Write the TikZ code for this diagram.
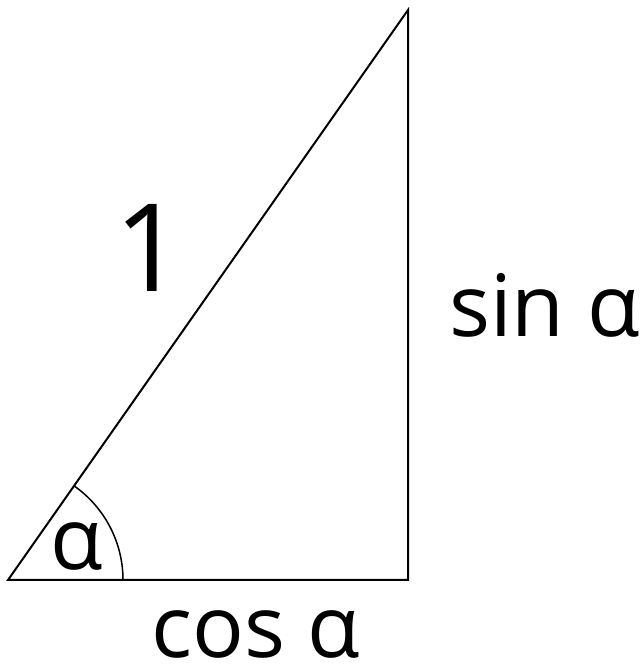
\documentclass[tikz,border=0pt]{standalone}
\usepackage{fontspec}
\setmainfont{Open Sans}
\begin{document}
\begin{tikzpicture}[x=1pt,y=1pt]
% Styles
\tikzset{
  side/.style={line width=2pt, line join=miter},
  lbl/.style={inner sep=0pt, anchor=base west, text depth=0pt, font=\fontsize{86}{86}\selectfont},
  biglbl/.style={inner sep=0pt, anchor=base west, font=\fontsize{122}{122}\selectfont}
}
\useasboundingbox (0,0) rectangle (641,666);

% Important positions
\coordinate (A) at (8,86);
\coordinate (B) at (408,86);
\coordinate (C) at (408,656);

% Triangle
\draw[side] (A) -- (B) -- (C) -- cycle;

% Angle arc
\draw[line width=1.5pt] (A) ++(115,0) arc[start angle=0, end angle=54.9, radius=115];

% Labels
\node[lbl] (alpha) at (50,96) {α};
\node[biglbl] (hyp) at (114,374) {1};
\node[lbl] (opp) at (449,329) {sin α};
\node[lbl] (adj) at (151,9) {cos α};
\end{tikzpicture}
\end{document}
